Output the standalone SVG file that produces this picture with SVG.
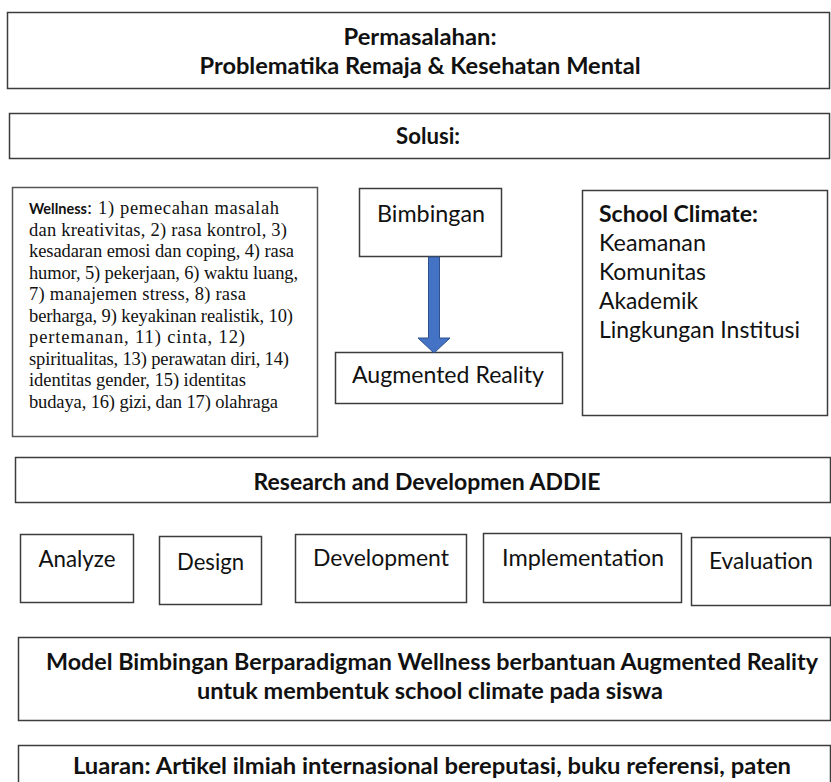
<svg xmlns="http://www.w3.org/2000/svg" width="831" height="782" viewBox="0 0 831 782">
<style>
.box{fill:#fff;stroke:#3c3c3c;stroke-width:1.5}
.b{font-family:Lato,'Open Sans',sans-serif;font-weight:bold;font-size:22.5px;fill:#111}
.r{font-family:Lato,'Open Sans',sans-serif;font-size:22.5px;fill:#111}
.s{font-family:'Liberation Serif','Times New Roman',serif;font-size:18.5px;fill:#111}
.c{text-anchor:middle}
</style>
<rect width="831" height="782" fill="#fff"/>
<g id="permasalahan">
<rect class="box" x="7.5" y="12.5" width="822" height="76"/>
<text class="b c" x="420" y="45" textLength="153" lengthAdjust="spacingAndGlyphs">Permasalahan:</text>
<text class="b c" x="420" y="74" textLength="441" lengthAdjust="spacingAndGlyphs">Problematika Remaja &amp; Kesehatan Mental</text>
</g>
<g id="solusi">
<rect class="box" x="9.5" y="113.5" width="820" height="45"/>
<text class="b c" x="428" y="144" textLength="64" lengthAdjust="spacingAndGlyphs">Solusi:</text>
</g>
<g id="wellness">
<rect class="box" x="12.5" y="187.5" width="305" height="249" style="stroke:#555"/>
<text class="b" x="29" y="214" style="font-size:15.5px" textLength="58" lengthAdjust="spacingAndGlyphs">Wellness</text>
<text class="s" x="87" y="214" textLength="192" lengthAdjust="spacing">: 1) pemecahan masalah</text>
<text class="s" x="29" y="236" textLength="258" lengthAdjust="spacing">dan kreativitas, 2) rasa kontrol, 3)</text>
<text class="s" x="29" y="257" textLength="265" lengthAdjust="spacing">kesadaran emosi dan coping, 4) rasa</text>
<text class="s" x="29" y="279" textLength="269" lengthAdjust="spacing">humor, 5) pekerjaan, 6) waktu luang,</text>
<text class="s" x="29" y="300" textLength="217" lengthAdjust="spacing">7) manajemen stress, 8) rasa</text>
<text class="s" x="29" y="322" textLength="264" lengthAdjust="spacing">berharga, 9) keyakinan realistik, 10)</text>
<text class="s" x="29" y="343" textLength="216" lengthAdjust="spacing">pertemanan, 11) cinta, 12)</text>
<text class="s" x="29" y="365" textLength="260" lengthAdjust="spacing">spiritualitas, 13) perawatan diri, 14)</text>
<text class="s" x="29" y="386" textLength="217" lengthAdjust="spacing">identitas gender, 15) identitas</text>
<text class="s" x="29" y="408" textLength="249" lengthAdjust="spacing">budaya, 16) gizi, dan 17) olahraga</text>
</g>
<g id="bimbingan">
<rect class="box" x="359.5" y="188.5" width="142" height="68"/>
<text class="r c" x="431" y="222" textLength="108" lengthAdjust="spacingAndGlyphs">Bimbingan</text>
</g>
<g id="augmented-reality">
<rect class="box" x="335.5" y="352.5" width="227" height="51"/>
<text class="r c" x="448" y="383" textLength="192" lengthAdjust="spacingAndGlyphs">Augmented Reality</text>
</g>
<g id="school-climate">
<rect class="box" x="582.5" y="190.5" width="245" height="225"/>
<text class="b" x="599" y="222" textLength="159" lengthAdjust="spacingAndGlyphs">School Climate:</text>
<text class="r" x="599" y="251" textLength="107" lengthAdjust="spacingAndGlyphs">Keamanan</text>
<text class="r" x="599" y="280" textLength="107" lengthAdjust="spacingAndGlyphs">Komunitas</text>
<text class="r" x="599" y="309" textLength="99" lengthAdjust="spacingAndGlyphs">Akademik</text>
<text class="r" x="599" y="338" textLength="201" lengthAdjust="spacingAndGlyphs">Lingkungan Institusi</text>
</g>
<g id="connectors">
<polygon points="428.5,257 439.5,257 439.5,338 450,338 434,353 418,338 428.5,338" fill="#4472C4" stroke="#2F528F" stroke-width="1"/>
</g>
<g id="research">
<rect class="box" x="15.5" y="457.5" width="815" height="45"/>
<text class="b c" x="427" y="490" textLength="347" lengthAdjust="spacingAndGlyphs">Research and Developmen ADDIE</text>
</g>
<g id="analyze">
<rect class="box" x="20.5" y="534.5" width="113" height="68"/>
<text class="r c" x="77" y="567" textLength="77" lengthAdjust="spacingAndGlyphs">Analyze</text>
</g>
<g id="design">
<rect class="box" x="159.5" y="536.5" width="102" height="68"/>
<text class="r c" x="210.5" y="570" textLength="67" lengthAdjust="spacingAndGlyphs">Design</text>
</g>
<g id="development">
<rect class="box" x="295.5" y="534.5" width="171" height="68"/>
<text class="r c" x="381" y="566" textLength="136" lengthAdjust="spacingAndGlyphs">Development</text>
</g>
<g id="implementation">
<rect class="box" x="483.5" y="533.5" width="198" height="69"/>
<text class="r c" x="583" y="566" textLength="162" lengthAdjust="spacingAndGlyphs">Implementation</text>
</g>
<g id="evaluation">
<rect class="box" x="691.5" y="537.5" width="139" height="68"/>
<text class="r c" x="761" y="569" textLength="104" lengthAdjust="spacingAndGlyphs">Evaluation</text>
</g>
<g id="model">
<rect class="box" x="18.5" y="637.5" width="812" height="83"/>
<text class="b c" x="432" y="670" textLength="772" lengthAdjust="spacingAndGlyphs">Model Bimbingan Berparadigman Wellness berbantuan Augmented Reality</text>
<text class="b c" x="430" y="699" textLength="466" lengthAdjust="spacingAndGlyphs">untuk membentuk school climate pada siswa</text>
</g>
<g id="luaran">
<rect class="box" x="18.5" y="745.5" width="812" height="45"/>
<text class="b c" x="432" y="774" textLength="718" lengthAdjust="spacingAndGlyphs">Luaran: Artikel ilmiah internasional bereputasi, buku referensi, paten</text>
</g>
</svg>
